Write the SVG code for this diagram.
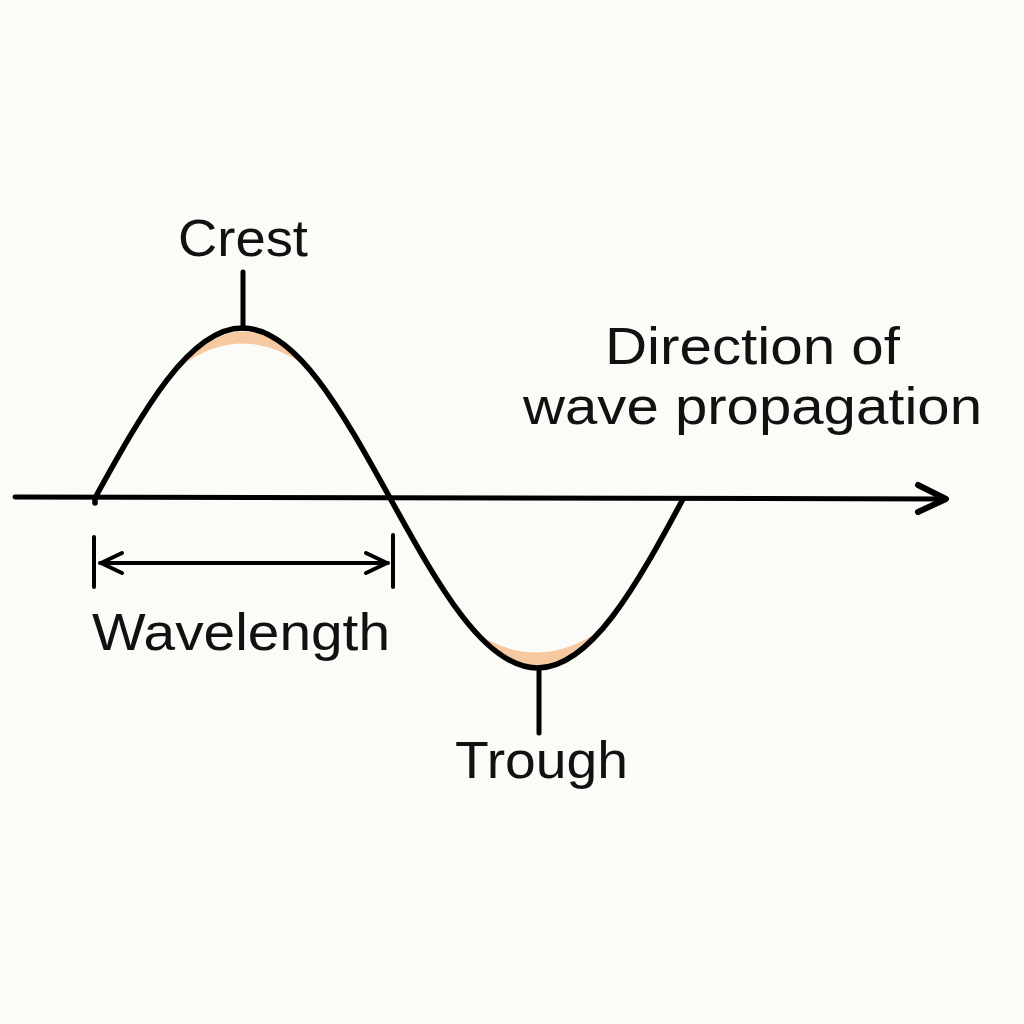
<svg xmlns="http://www.w3.org/2000/svg" width="1024" height="1024" viewBox="0 0 1024 1024">
  <style>
    .ln { fill: none; stroke: #000; stroke-linecap: round; stroke-linejoin: round; }
    .lbl { font-family: "Liberation Sans", Arial, sans-serif; font-size: 52px; fill: #111; }
    .hl { fill: #F6C9A0; }
  </style>
  <rect width="1024" height="1024" fill="#FBFBF8"/>
  <g id="highlights">
    <path class="hl" d="M 184 364 Q 243 298 306 366 Q 243 322 184 364 Z"/>
    <path class="hl" d="M 466 626 Q 538 708 609 624 Q 538 680 466 626 Z"/>
  </g>
  <g id="connectors">
    <path id="axis" class="ln" stroke-width="5" d="M 15 497 L 946 499"/>
    <path id="axis-head" class="ln" stroke-width="6" d="M 918 485 L 946 499 L 918 512"/>
    <path id="wave" class="ln" stroke-width="5.5" d="M 95 503 L 95 498 C 143.1 410.9 189.1 328 242.5 328 C 295.9 328 341.9 410.9 390 498 C 438.1 585.1 484.1 668 537.5 668 C 590.9 668 636.9 585.1 683 499"/>
    <path id="crest-tick" class="ln" stroke-width="5" d="M 243 272 L 243 328"/>
    <path id="trough-tick" class="ln" stroke-width="5" d="M 539 668 L 539 733"/>
    <path id="wl-left" class="ln" stroke-width="4" d="M 94 537 L 94 587"/>
    <path id="wl-right" class="ln" stroke-width="4" d="M 393 535 L 393 587"/>
    <path id="wl-line" class="ln" stroke-width="4" d="M 100 563 L 388 563"/>
    <path id="wl-head-l" class="ln" stroke-width="4" d="M 122 553 L 101 563 L 122 573"/>
    <path id="wl-head-r" class="ln" stroke-width="4" d="M 366 553 L 387 563 L 366 573"/>
  </g>
  <g id="crest-label"><text class="lbl" x="178" y="256" textLength="130" lengthAdjust="spacingAndGlyphs">Crest</text></g>
  <g id="trough-label"><text class="lbl" x="455" y="778" textLength="173" lengthAdjust="spacingAndGlyphs">Trough</text></g>
  <g id="wavelength-label"><text class="lbl" x="92" y="650" textLength="298" lengthAdjust="spacingAndGlyphs">Wavelength</text></g>
  <g id="direction-label">
    <text class="lbl" x="605" y="364" textLength="295" lengthAdjust="spacingAndGlyphs">Direction of</text>
    <text class="lbl" x="523" y="424" textLength="459" lengthAdjust="spacingAndGlyphs">wave propagation</text>
  </g>
</svg>
